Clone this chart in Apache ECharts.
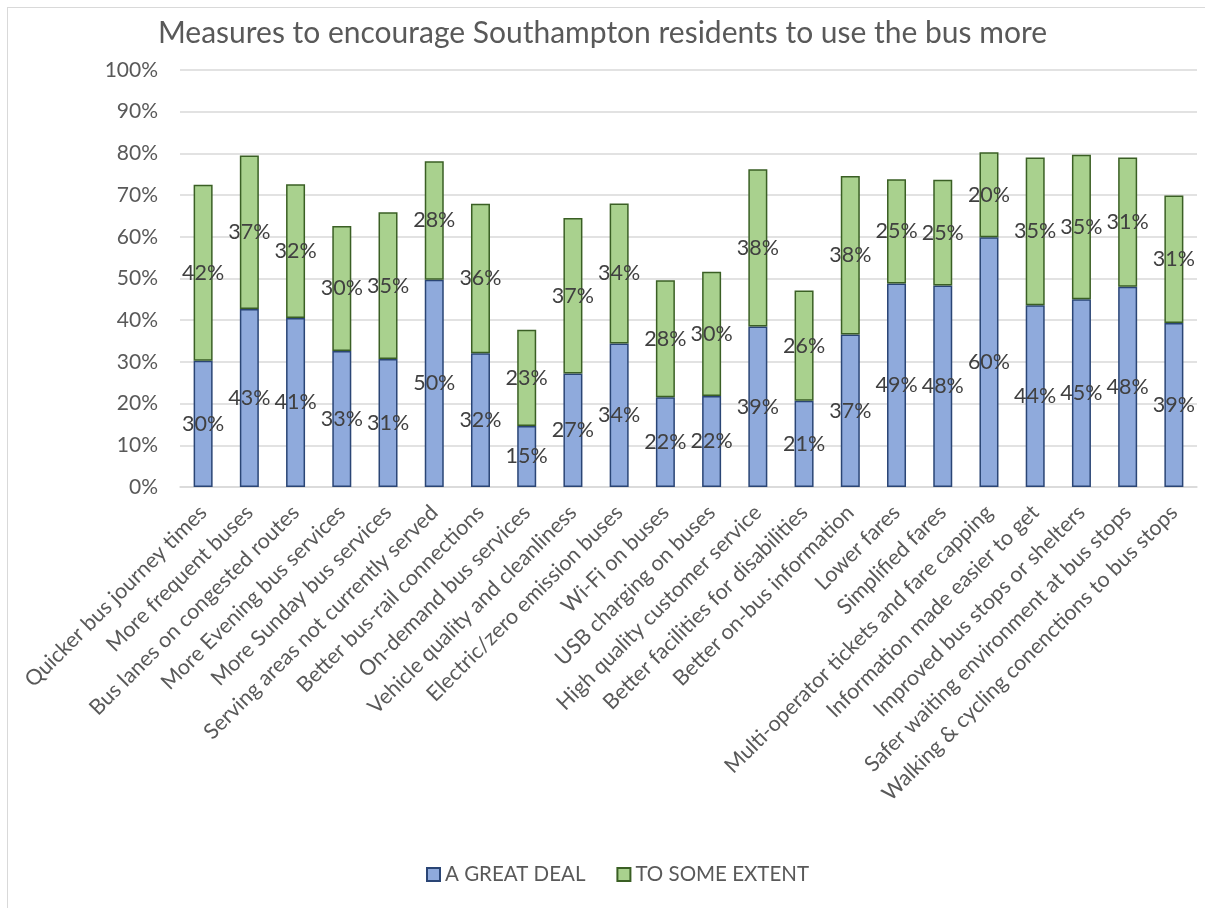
<!DOCTYPE html>
<html>
<head>
<meta charset="utf-8">
<script src="https://cdn.jsdelivr.net/npm/echarts@6/dist/echarts.min.js"></script>
<style>
  html, body { margin: 0; padding: 0; background: #ffffff; }
  #frame { position: absolute; left: 7px; top: 7px; width: 1400px; height: 1100px; border-top: 1.5px solid #d9d9d9; border-left: 1.5px solid #d9d9d9; }
  #chart { position: absolute; left: 0; top: 0; width: 1205px; height: 908px; }
</style>
</head>
<body>
<div id="frame"></div>
<div id="chart"></div>
<script>
const titleText = 'Measures to encourage Southampton residents to use the bus more';
const categories = [
  'Quicker bus journey times',
  'More frequent buses',
  'Bus lanes on congested routes',
  'More Evening bus services',
  'More Sunday bus services',
  'Serving areas not currently served',
  'Better bus-rail connections',
  'On-demand bus services',
  'Vehicle quality and cleanliness',
  'Electric/zero emission buses',
  'Wi-Fi on buses',
  'USB charging on buses',
  'High quality customer service',
  'Better facilities for disabilities',
  'Better on-bus information',
  'Lower fares',
  'Simplified fares',
  'Multi-operator tickets and fare capping',
  'Information made easier to get',
  'Improved bus stops or shelters',
  'Safer waiting environment at bus stops',
  'Walking & cycling conenctions to bus stops'
];
const seriesNames = ['A GREAT DEAL', 'TO SOME EXTENT'];
const greatDeal = [30.3, 42.7, 40.5, 32.6, 30.7, 49.7, 32.1, 14.6, 27.2, 34.4, 21.5, 21.8, 38.5, 20.7, 36.6, 48.8, 48.3, 59.9, 43.6, 45.0, 48.0, 39.3];
const someExtent = [42.2, 36.8, 32.1, 30.0, 35.2, 28.4, 35.8, 23.1, 37.3, 33.6, 28.1, 29.8, 37.7, 26.4, 38.0, 25.0, 25.4, 20.4, 35.4, 34.7, 31.0, 30.6];
const yTicks = { min: 0, max: 100, interval: 10 };

const FONT = 'Lato';
const chart = echarts.init(document.getElementById('chart'), null, { renderer: 'canvas' });

const labelCfg = {
  show: true,
  position: 'inside',
  color: '#404040',
  fontFamily: FONT,
  fontSize: 21.5,
  formatter: p => Math.round(p.value) + '%'
};

chart.setOption({
  backgroundColor: 'transparent',
  animation: false,
  title: {
    text: titleText,
    left: 'center',
    top: 13,
    textStyle: { color: '#595959', fontFamily: FONT, fontSize: 30, fontWeight: 'normal' }
  },
  legend: {
    data: seriesNames,
    bottom: 18,
    left: 421,
    icon: 'rect',
    itemWidth: 13,
    itemHeight: 13,
    itemGap: 31,
    textStyle: { color: '#595959', fontFamily: FONT, fontSize: 20.5 }
  },
  grid: { left: 180, right: 8, top: 70, bottom: 421, containLabel: false },
  xAxis: {
    type: 'category',
    data: categories,
    axisLine: { show: true, lineStyle: { color: '#d9d9d9', width: 1.5 } },
    axisTick: { show: false },
    axisLabel: {
      interval: 0,
      rotate: 45,
      color: '#595959',
      fontFamily: FONT,
      fontSize: 21.5,
      margin: 22
    }
  },
  yAxis: {
    type: 'value',
    min: yTicks.min,
    max: yTicks.max,
    interval: yTicks.interval,
    axisLine: { show: false },
    axisTick: { show: false },
    splitLine: { lineStyle: { color: '#d9d9d9', width: 1.5 } },
    axisLabel: {
      formatter: '{value}%',
      color: '#595959',
      fontFamily: FONT,
      fontSize: 21,
      margin: 22
    }
  },
  series: [
    {
      name: seriesNames[0],
      type: 'bar',
      stack: 'total',
      barWidth: 19,
      data: greatDeal,
      itemStyle: { color: '#8faadc', borderColor: '#2a4575', borderWidth: 1.5 },
      label: labelCfg
    },
    {
      name: seriesNames[1],
      type: 'bar',
      stack: 'total',
      barWidth: 19,
      data: someExtent,
      itemStyle: { color: '#a9d18e', borderColor: '#3a5f24', borderWidth: 1.5 },
      label: labelCfg
    }
  ]
});
</script>
</body>
</html>
